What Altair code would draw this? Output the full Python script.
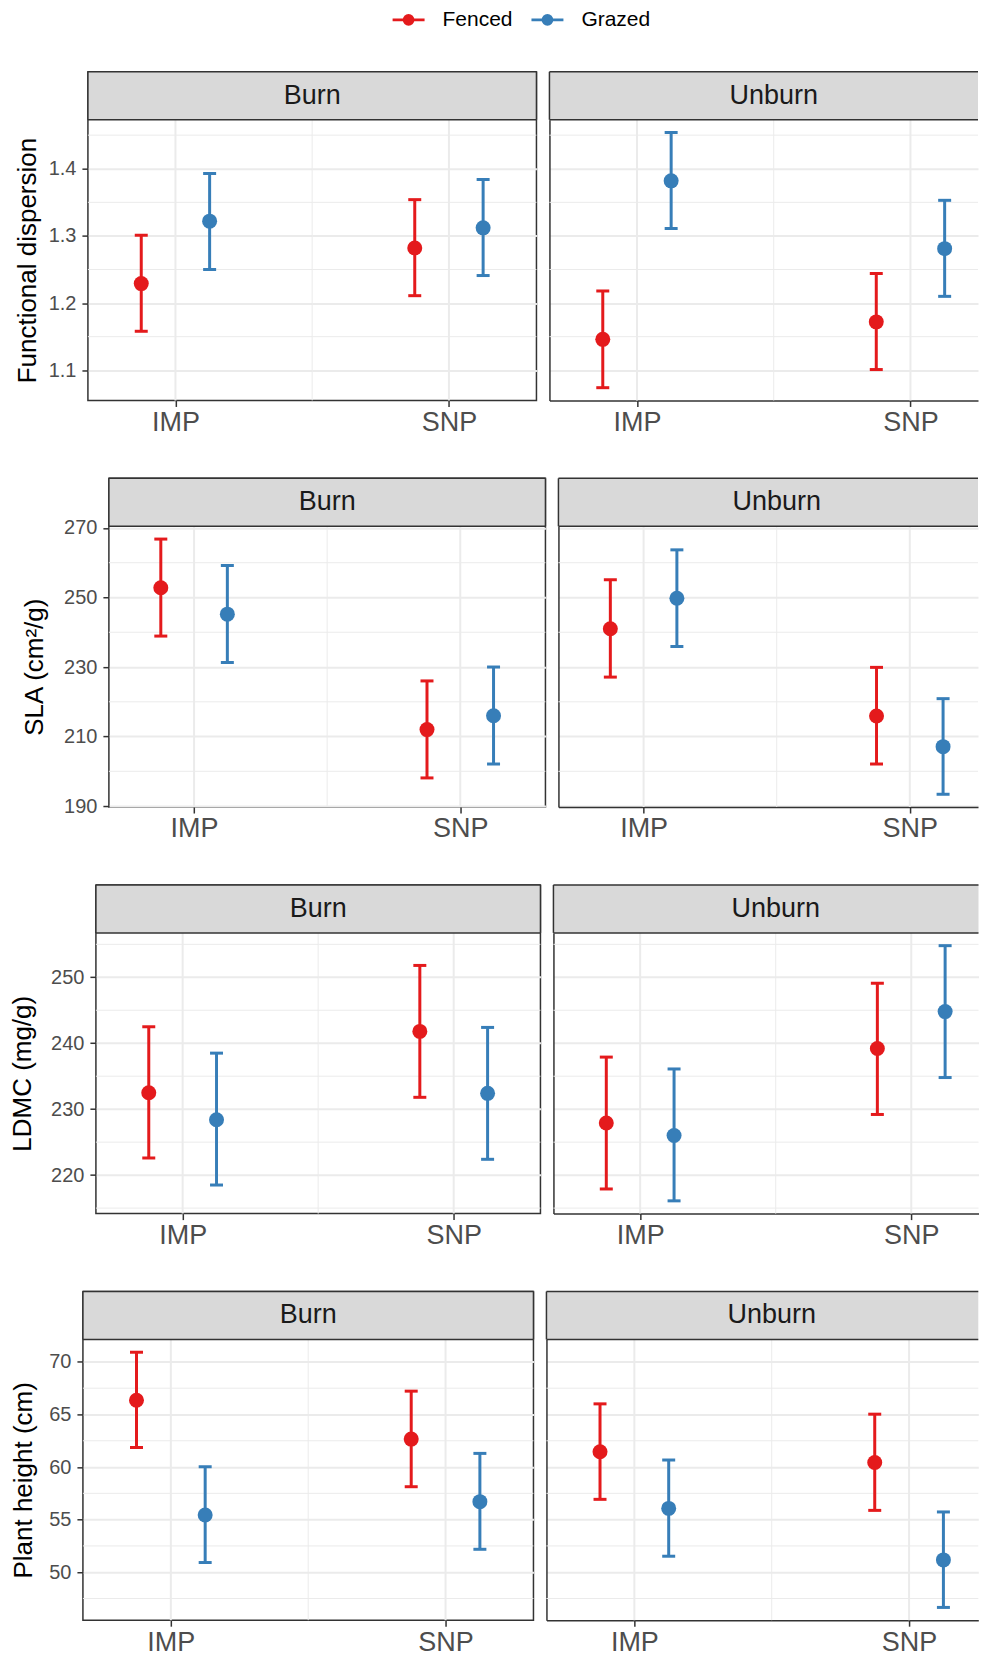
import json
import altair as alt
import pandas as pd

FONT = "Liberation Sans"

# ---------------- data ----------------
sites = ["IMP", "SNP"]
treatments = ["Fenced", "Grazed"]
fires = ["Burn", "Unburn"]
palette = ["#E41A1C", "#377EB8"]

traits = ["Functional dispersion", "SLA (cm²/g)", "LDMC (mg/g)", "Plant height (cm)"]

# order: Burn-IMP-Fenced, Burn-IMP-Grazed, Burn-SNP-Fenced, Burn-SNP-Grazed,
#        Unburn-IMP-Fenced, Unburn-IMP-Grazed, Unburn-SNP-Fenced, Unburn-SNP-Grazed
fdis_mean = [1.229, 1.322, 1.282, 1.312, 1.146, 1.382, 1.172, 1.281]
fdis_low = [1.158, 1.250, 1.211, 1.241, 1.074, 1.311, 1.101, 1.210]
fdis_high = [1.301, 1.393, 1.354, 1.384, 1.218, 1.454, 1.244, 1.353]

sla_mean = [252.8, 245.2, 212.0, 216.0, 241.0, 249.8, 215.9, 207.1]
sla_low = [238.9, 231.3, 198.1, 202.1, 227.1, 235.9, 202.1, 193.4]
sla_high = [266.8, 259.2, 226.0, 230.0, 255.1, 263.7, 229.9, 220.9]

ldmc_mean = [232.5, 228.4, 241.8, 232.4, 227.9, 226.0, 239.2, 244.8]
ldmc_low = [222.6, 218.5, 231.8, 222.4, 217.9, 216.1, 229.2, 234.8]
ldmc_high = [242.5, 238.5, 251.8, 242.4, 237.9, 236.1, 249.1, 254.8]

height_mean = [66.36, 55.44, 62.66, 56.71, 61.46, 56.07, 60.44, 51.17]
height_low = [61.86, 50.92, 58.13, 52.18, 56.93, 51.52, 55.88, 46.65]
height_high = [70.92, 60.03, 67.22, 61.30, 66.01, 60.67, 65.03, 55.73]

trait_means = [fdis_mean, sla_mean, ldmc_mean, height_mean]
trait_lows = [fdis_low, sla_low, ldmc_low, height_low]
trait_highs = [fdis_high, sla_high, ldmc_high, height_high]

major_breaks = [[1.1, 1.2, 1.3, 1.4], [190, 210, 230, 250, 270],
                [220, 230, 240, 250], [50, 55, 60, 65, 70]]
label_formats = [".1f", "d", "d", "d"]

# ---------------- style / layout ----------------
DARK = "#333333"
GRID = "#ebebeb"
LABEL = "#4d4d4d"
STRIP_FILL = "#d9d9d9"
STRIP_H = 48
PLOT_H = 281
PANEL_W = [449, 437, 445, 451]
PANEL_LEFT = [88, 109, 95.5, 82.7]
TITLE_X = [-52, -66, -65, -51]
PANEL_GAP = 13
PAGE_MARGIN = 8
PAGE_RIGHT = 979
X_EXPAND = 0.32
DODGE = 0.125
ROW_SPACING = 40
XLAB_SIZE = 27
STRIP_SIZE = 27

cscale = alt.Scale(domain=treatments, range=palette)


def make_panel(ti, fi):
    means, lows, highs = trait_means[ti], trait_lows[ti], trait_highs[ti]
    n = len(sites) * len(treatments)
    recs = []
    k = fi * n
    for si, s in enumerate(sites):
        for tj, t in enumerate(treatments):
            recs.append(dict(site=s, trt=t, mean=means[k], low=lows[k], high=highs[k],
                             x=si + 1 + (tj - 0.5) * 2 * DODGE))
            k += 1
    df = pd.DataFrame(recs)

    rng = max(highs) - min(lows)
    ydom = [min(lows) - 0.05 * rng, max(highs) + 0.05 * rng]
    majors = major_breaks[ti]
    step = majors[1] - majors[0]
    minors_y = [v for v in [majors[0] - step / 2] + [m + step / 2 for m in majors]
                if ydom[0] <= v <= ydom[1]]
    majors_x = list(range(1, len(sites) + 1))
    minors_x = [i + 1.5 for i in range(len(sites) - 1)]

    full_w = PANEL_W[ti]
    unit = full_w / (len(sites) - 1 + 2 * X_EXPAND)
    x0 = 1 - X_EXPAND
    partial = fi == 1
    if partial:
        left = PANEL_LEFT[ti] + full_w + PANEL_GAP
        width = PAGE_RIGHT - left
        xdom = [x0, x0 + width / unit]
    else:
        width = full_w
        xdom = [x0, len(sites) + X_EXPAND]
    total_h = STRIP_H + PLOT_H

    xscale = alt.Scale(domain=xdom, nice=False, zero=False)
    yscale = alt.Scale(domain=ydom, nice=False, zero=False, range=[total_h, STRIP_H])
    xaxis = alt.Axis(values=majors_x,
                     labelExpr=f"{json.dumps(sites)}[datum.value - 1]",
                     title=None, grid=False,
                     tickSize=6, tickColor=DARK, tickWidth=1.5,
                     labelFontSize=XLAB_SIZE, labelColor=LABEL, labelPadding=3, labelFont=FONT,
                     labelFlush=False, labelAngle=0,
                     domain=partial, domainColor=DARK, domainWidth=1.5)
    if not partial:
        yaxis = alt.Axis(values=majors, format=label_formats[ti], title=traits[ti],
                         titleFontSize=26, titleFont=FONT, titleColor="black",
                         titleFontWeight="normal", titleAngle=270, titleAlign="center",
                         titleBaseline="alphabetic", titleX=TITLE_X[ti],
                         titleY=STRIP_H + PLOT_H / 2,
                         labelFontSize=20, labelColor=LABEL, labelPadding=6, labelFont=FONT,
                         labelFlush=False,
                         tickSize=6, tickColor=DARK, tickWidth=1.5,
                         grid=True, gridColor=GRID, gridWidth=2, domain=False)
        view = alt.ViewBackground(stroke=DARK, strokeWidth=1.5, fill="white")
    else:
        yaxis = alt.Axis(values=majors, labels=False, ticks=False, title=None,
                         grid=True, gridColor=GRID, gridWidth=2,
                         domain=True, domainColor=DARK, domainWidth=1.5)
        view = alt.ViewBackground(stroke=None, fill="white")

    def X(f):
        return alt.X(f, type="quantitative", scale=xscale, axis=xaxis)

    def Y(f):
        return alt.Y(f, type="quantitative", scale=yscale, axis=yaxis)

    color = alt.Color("trt:N", scale=cscale, legend=None)

    minor_y = alt.Chart(pd.DataFrame({"v": minors_y})).mark_rule(
        color=GRID, strokeWidth=1).encode(y=Y("v"))
    minor_x = alt.Chart(pd.DataFrame({"u": minors_x})).mark_rule(
        color=GRID, strokeWidth=1).encode(x=X("u"))
    major_x = alt.Chart(pd.DataFrame({"u": majors_x})).mark_rule(
        color=GRID, strokeWidth=2).encode(x=X("u"))

    # facet strip drawn inside the top band of the view
    sdf = pd.DataFrame({"label": [fires[fi]]})
    strip_rect = alt.Chart(sdf).mark_rect(color=STRIP_FILL).encode(
        x=alt.value(0), x2=alt.value(width), y=alt.value(0), y2=alt.value(STRIP_H))
    line = alt.Chart(sdf).mark_rule(color=DARK, strokeWidth=1.5)
    strip_layers = [
        strip_rect,
        line.encode(x=alt.value(0), x2=alt.value(width), y=alt.value(STRIP_H)),
        line.encode(x=alt.value(0), x2=alt.value(width), y=alt.value(0)),
        line.encode(x=alt.value(0), y=alt.value(0), y2=alt.value(STRIP_H)),
    ]
    if not partial:
        strip_layers.append(
            line.encode(x=alt.value(width), y=alt.value(0), y2=alt.value(STRIP_H)))
    strip_text = alt.Chart(sdf).mark_text(fontSize=STRIP_SIZE, font=FONT, color="#1a1a1a",
                                          baseline="middle", align="center").encode(
        text="label:N", x=alt.value(full_w / 2), y=alt.value(STRIP_H / 2))

    base = alt.Chart(df)
    bars = base.mark_rule(strokeWidth=3).encode(x=X("x"), y=Y("low"), y2="high:Q", color=color)
    cap_lo = base.mark_tick(orient="horizontal", size=13, thickness=3, opacity=1).encode(
        x=X("x"), y=Y("low"), color=color)
    cap_hi = base.mark_tick(orient="horizontal", size=13, thickness=3, opacity=1).encode(
        x=X("x"), y=Y("high"), color=color)
    pts = base.mark_circle(size=225, opacity=1).encode(x=X("x"), y=Y("mean"), color=color)

    return alt.layer(minor_y, minor_x, major_x, *strip_layers, strip_text,
                     bars, cap_lo, cap_hi, pts).properties(
        width=width, height=total_h, view=view)


rows = []
for ti in range(len(traits)):
    spacer = alt.Chart(pd.DataFrame({"a": [0]})).mark_point(opacity=0).properties(
        width=PANEL_LEFT[ti] - PAGE_MARGIN - PANEL_GAP, height=10)
    rows.append(alt.hconcat(spacer, make_panel(ti, 0), make_panel(ti, 1),
                            spacing=PANEL_GAP, bounds="flush"))
rows_v = alt.vconcat(*rows, spacing=ROW_SPACING)

# ---------------- legend ----------------
leg_df = pd.DataFrame({"trt": treatments})
lx = alt.X("trt:N", scale=alt.Scale(type="point", domain=treatments, range=[401, 540], padding=0),
           axis=None)
lc = alt.Color("trt:N", scale=cscale, legend=None)
leg_base = alt.Chart(leg_df)
leg_line = leg_base.mark_tick(orient="horizontal", size=32, thickness=2.7, opacity=1).encode(
    x=lx, y=alt.value(10), color=lc)
leg_pt = leg_base.mark_circle(size=137, opacity=1).encode(x=lx, y=alt.value(10), color=lc)
leg_txt = leg_base.mark_text(align="left", baseline="middle", dx=34, fontSize=21, font=FONT,
                             color="black").encode(x=lx, y=alt.value(10), text="trt:N")
legend = alt.layer(leg_line, leg_pt, leg_txt).properties(width=960, height=24)

chart = alt.vconcat(legend, rows_v, spacing=36, padding=0).configure(
    font=FONT).configure_view(stroke=None)

chart.save("out.html", embed_options={"renderer": "svg", "actions": False})
